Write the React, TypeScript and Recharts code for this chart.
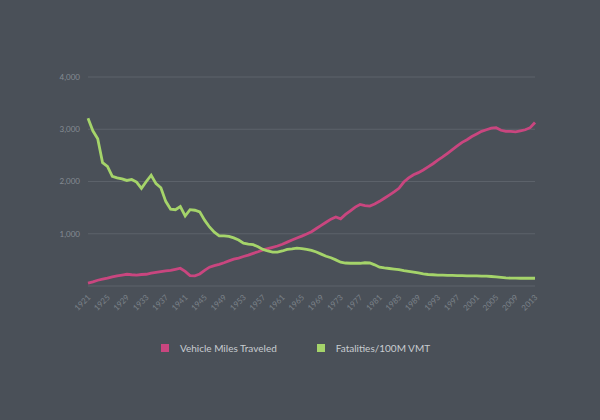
import React from "react";
import { LineChart, Line, XAxis, YAxis, CartesianGrid, Legend } from "recharts";

const years: number[] = [
  1921, 1922, 1923, 1924, 1925, 1926, 1927, 1928, 1929, 1930,
  1931, 1932, 1933, 1934, 1935, 1936, 1937, 1938, 1939, 1940,
  1941, 1942, 1943, 1944, 1945, 1946, 1947, 1948, 1949, 1950,
  1951, 1952, 1953, 1954, 1955, 1956, 1957, 1958, 1959, 1960,
  1961, 1962, 1963, 1964, 1965, 1966, 1967, 1968, 1969, 1970,
  1971, 1972, 1973, 1974, 1975, 1976, 1977, 1978, 1979, 1980,
  1981, 1982, 1983, 1984, 1985, 1986, 1987, 1988, 1989, 1990,
  1991, 1992, 1993, 1994, 1995, 1996, 1997, 1998, 1999, 2000,
  2001, 2002, 2003, 2004, 2005, 2006, 2007, 2008, 2009, 2010,
  2011, 2012, 2013,
];

const vehicleMiles: number[] = [
  55, 80, 110, 130, 150, 175, 195, 210, 225, 215,
  210, 220, 225, 245, 260, 275, 290, 300, 320, 340,
  280, 200, 195, 230, 300, 360, 390, 415, 445, 480,
  515, 535, 565, 590, 625, 655, 690, 715, 740, 765,
  800, 840, 880, 920, 955, 995, 1040, 1100, 1160, 1220,
  1280, 1320, 1285, 1370, 1440, 1510, 1560, 1540, 1530, 1570,
  1620, 1680, 1740, 1800, 1870, 1990, 2070, 2130, 2170, 2220,
  2280, 2340, 2410, 2470, 2540, 2610, 2680, 2750, 2800, 2860,
  2910, 2960, 2990, 3020, 3030, 2980, 2960, 2960, 2950, 2970,
  2990, 3030, 3130,
];

const fatalities: number[] = [
  3210, 2970, 2820, 2360, 2290, 2100, 2070, 2050, 2020, 2040,
  1990, 1870, 2000, 2120, 1960, 1880, 1620, 1470, 1460, 1520,
  1340, 1460, 1450, 1420, 1260, 1130, 1030, 960, 960, 950,
  920, 880, 820, 800, 790, 750, 700, 670, 650, 650,
  670, 700, 710, 725, 715, 700, 680, 650, 610, 570,
  540, 500, 455, 440, 435, 435, 435, 445, 440, 405,
  360, 345, 335, 325, 315, 295, 280, 265, 250, 230,
  220, 215, 210, 208, 205, 203, 200, 198, 195, 193,
  192, 190, 188, 182, 175, 165, 155, 150, 150, 148,
  148, 150, 148,
];

const xTicks: number[] = [
  1921, 1925, 1929, 1933, 1937, 1941, 1945, 1949, 1953, 1957, 1961, 1965,
  1969, 1973, 1977, 1981, 1985, 1989, 1993, 1997, 2001, 2005, 2009, 2013,
];
const yTicks: number[] = [0, 1000, 2000, 3000, 4000];

const seriesNames = ["Vehicle Miles Traveled", "Fatalities/100M VMT"];
const PINK = "#c9467f";
const GREEN = "#a5d46a";

const data = years.map((y, i) => ({
  year: y,
  vmt: vehicleMiles[i],
  fat: fatalities[i],
}));

const FONT = "Lato, 'Open Sans', sans-serif";

const XTick = (props: any) => {
  const { x, y, payload } = props;
  return (
    <text
      x={x + 3}
      y={y + 4}
      transform={`rotate(-45, ${x + 3}, ${y + 4})`}
      textAnchor="end"
      fontSize={8}
      fill="#7b8289"
      fontFamily={FONT}
    >
      {payload.value}
    </text>
  );
};

const LegendContent = () => (
  <div
    style={{
      display: "flex",
      justifyContent: "center",
      gap: 40,
      fontFamily: FONT,
      fontSize: 10,
      color: "#c8ccd0",
      paddingRight: 9,
    }}
  >
    {seriesNames.map((n, i) => (
      <div key={n} style={{ display: "flex", alignItems: "center" }}>
        <span
          style={{
            display: "inline-block",
            width: 8,
            height: 8,
            background: i === 0 ? PINK : GREEN,
            marginRight: 11,
          }}
        />
        <span>{n}</span>
      </div>
    ))}
  </div>
);

export default function App() {
  return (
    <div style={{ width: 600, height: 420, background: "#4a5058" }}>
      <style>{"body{margin:0}"}</style>
      <LineChart
        width={600}
        height={420}
        data={data}
        margin={{ top: 77, right: 65, bottom: 0, left: 0 }}
      >
        <CartesianGrid vertical={false} stroke="#5c626a" strokeWidth={1} />
        <XAxis
          dataKey="year"
          type="number"
          domain={[1921, 2013]}
          ticks={xTicks}
          interval={0}
          tick={<XTick />}
          tickLine={false}
          axisLine={false}
          height={48}
        />
        <YAxis
          width={88}
          domain={[0, 4000]}
          ticks={yTicks}
          tickFormatter={(v: number) => (v === 0 ? "" : v.toLocaleString("en-US"))}
          tick={{ fontSize: 8, fill: "#858c93", fontFamily: FONT }}
          tickLine={false}
          axisLine={false}
        />
        <Legend
          verticalAlign="bottom"
          height={86}
          content={<LegendContent />}
          wrapperStyle={{ top: 342, left: 0, width: 600 }}
        />
        <Line
          type="linear"
          dataKey="vmt"
          name={seriesNames[0]}
          stroke={PINK}
          strokeWidth={2.8}
          dot={false}
          isAnimationActive={false}
        />
        <Line
          type="linear"
          dataKey="fat"
          name={seriesNames[1]}
          stroke={GREEN}
          strokeWidth={2.8}
          dot={false}
          isAnimationActive={false}
        />
      </LineChart>
    </div>
  );
}
